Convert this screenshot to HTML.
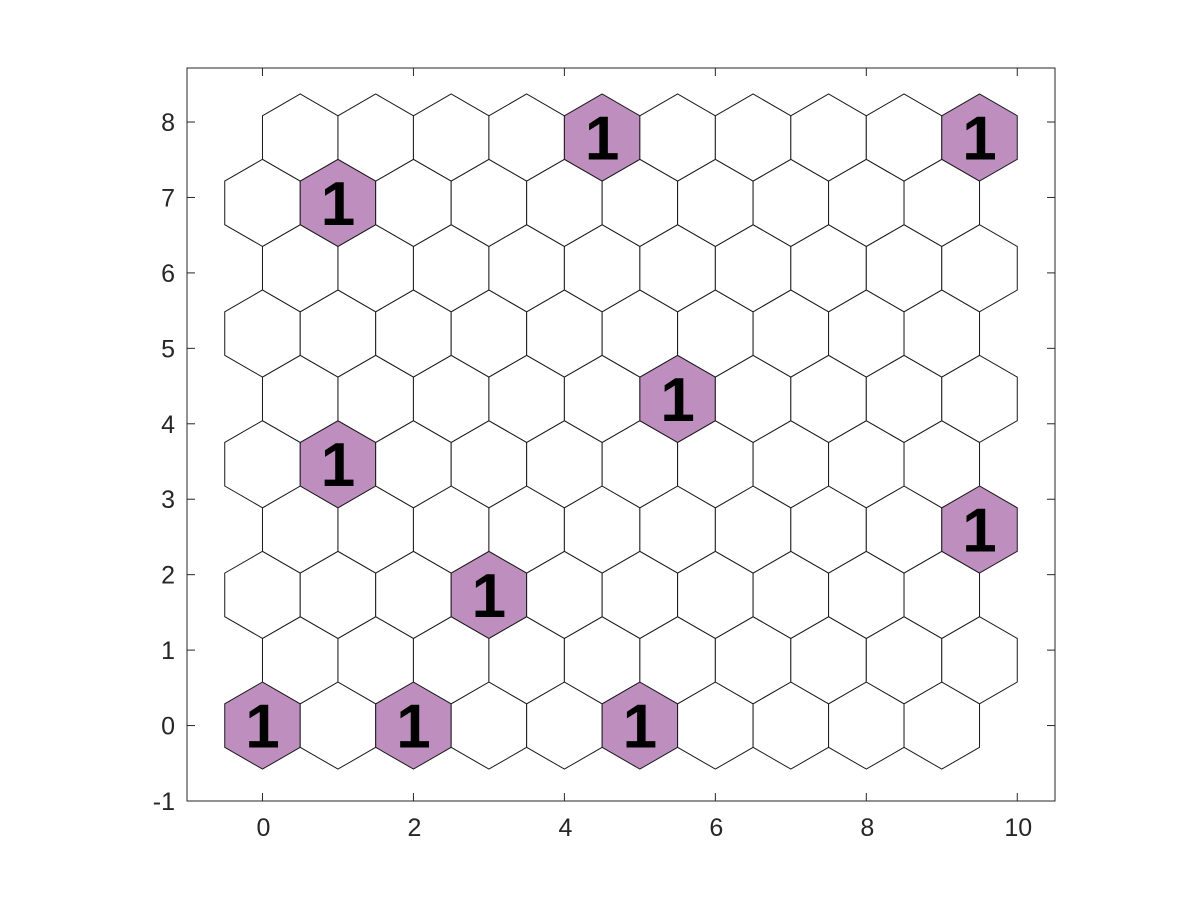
<!DOCTYPE html>
<html><head><meta charset="utf-8"><style>
body{margin:0;background:#fff}
svg{display:block}
text{font-family:"Liberation Sans",Arial,sans-serif}
</style></head><body>
<svg id="chart" width="1200" height="900" xmlns="http://www.w3.org/2000/svg">
<rect width="1200" height="900" fill="#fff"/>
<g id="hexes"></g>
<g id="axes"></g>
</svg>
<script>
const rows = 10;
const cols = 10;
// hit counts: [row, col, count]
const hitRows = [0, 0, 0, 2, 3, 4, 5, 8, 9, 9];
const hitCols = [0, 2, 5, 3, 9, 1, 5, 1, 4, 9];
const hitCounts = [1, 1, 1, 1, 1, 1, 1, 1, 1, 1];
const xTicks = [0, 2, 4, 6, 8, 10];
const yTicks = [-1, 0, 1, 2, 3, 4, 5, 6, 7, 8];

const NS = "http://www.w3.org/2000/svg";
const L = 187, R = 1055, T = 68, B = 801;
const xMin = -1, xMax = 10.5, yMin = -1, yMax = 8.716;
const sx = v => L + (v - xMin) / (xMax - xMin) * (R - L);
const sy = v => B - (v - yMin) / (yMax - yMin) * (B - T);
const H = Math.sqrt(0.75);
const rad = 1 / Math.sqrt(3);

function mk(tag, attrs, parent) {
  const e = document.createElementNS(NS, tag);
  for (const k in attrs) e.setAttribute(k, attrs[k]);
  parent.appendChild(e);
  return e;
}
const hg = document.getElementById('hexes');
const hitMap = {};
hitRows.forEach((r, i) => { hitMap[r + '_' + hitCols[i]] = hitCounts[i]; });
for (let r = 0; r < rows; r++) {
  for (let c = 0; c < cols; c++) {
    const cx = c + (r % 2 ? 0.5 : 0), cy = r * H;
    const pts = [];
    for (let k = 0; k < 6; k++) {
      const a = Math.PI / 2 + k * Math.PI / 3;
      pts.push(sx(cx + rad * Math.cos(a)).toFixed(2) + ',' + sy(cy + rad * Math.sin(a)).toFixed(2));
    }
    const n = hitMap[r + '_' + c] || 0;
    const p = mk('polygon', {points: pts.join(' '), fill: n ? '#be8fbe' : '#fff', stroke: '#1a1a1a', 'stroke-width': 1}, hg);
    
    
    if (n) {
      const t = mk('text', {x: sx(cx), y: sy(cy) + 22, 'text-anchor': 'middle', 'font-size': 62, 'font-weight': 'bold', fill: '#000'}, hg);
      t.textContent = n;
      
      
    }
  }
}
const ax = document.getElementById('axes');
mk('rect', {x: L, y: T, width: R - L, height: B - T, fill: 'none', stroke: '#262626', 'stroke-width': 1}, ax);
xTicks.forEach(v => {
  const x = sx(v);
  mk('line', {x1: x, y1: B, x2: x, y2: B - 8, stroke: '#262626'}, ax);
  mk('line', {x1: x, y1: T, x2: x, y2: T + 8, stroke: '#262626'}, ax);
  const t = mk('text', {x: x + 1, y: B + 35, 'text-anchor': 'middle', 'font-size': 25, fill: '#262626'}, ax);
  t.textContent = v;
  
  
});
yTicks.forEach(v => {
  const y = sy(v);
  mk('line', {x1: L, y1: y, x2: L + 8, y2: y, stroke: '#262626'}, ax);
  mk('line', {x1: R, y1: y, x2: R - 8, y2: y, stroke: '#262626'}, ax);
  const t = mk('text', {x: L - 12, y: y + 9, 'text-anchor': 'end', 'font-size': 25, fill: '#262626'}, ax);
  t.textContent = v;
  
  
});
</script>
</body></html>
